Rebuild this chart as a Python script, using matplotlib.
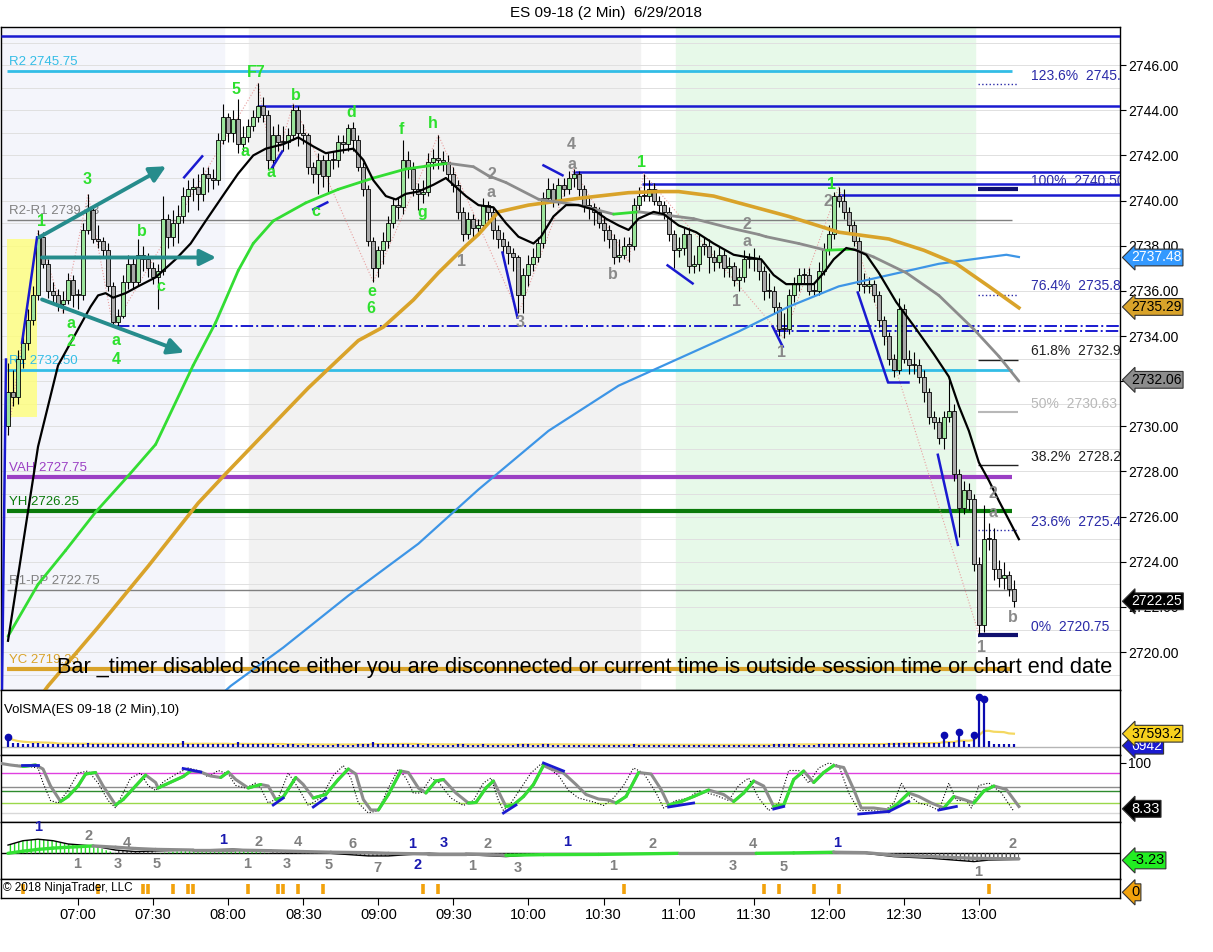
import matplotlib
matplotlib.use('Agg')
import matplotlib.pyplot as plt
import matplotlib.transforms as mtransforms
from matplotlib.patches import Rectangle
import numpy as np
import pandas as pd

plt.rcParams['font.family'] = ['Liberation Sans', 'DejaVu Sans']

# ---------------- data ----------------
first_time = 392          # 06:32, minutes after midnight
bar_step = 2              # 2-minute bars
first_open = 2730.0

closes = [
    2731.5, 2731.3, 2733.0, 2733.7, 2734.7, 2735.8, 2738.4, 2737.2, 2736.0, 2735.8,
    2735.4, 2735.6, 2736.5, 2735.8, 2735.8, 2738.7, 2739.6, 2738.3, 2738.2, 2737.8,
    2736.2, 2734.6, 2734.9, 2736.4, 2737.2, 2736.4, 2737.6, 2737.4, 2737.0, 2736.6,
    2736.9, 2739.2, 2738.4, 2739.0, 2739.3, 2740.2, 2740.5, 2740.6, 2740.3, 2741.2,
    2741.0, 2740.9, 2742.7, 2743.7, 2743.0, 2743.6, 2742.5, 2742.8, 2743.3, 2743.7,
    2744.2, 2743.8, 2741.8, 2742.9, 2742.6, 2742.6, 2742.9, 2744.0, 2743.0, 2742.9,
    2741.5, 2741.2, 2741.8, 2741.1, 2741.8, 2741.8, 2742.6, 2742.5, 2743.2, 2742.7,
    2741.5, 2740.5, 2738.2, 2737.0, 2737.8, 2738.2, 2739.0, 2739.8, 2739.7, 2741.8,
    2741.4, 2740.5, 2740.3, 2740.4, 2741.7, 2741.9, 2741.8, 2741.7, 2741.2, 2740.7,
    2739.5, 2738.5, 2739.2, 2738.8, 2738.9, 2739.8, 2739.5, 2738.7, 2738.3, 2738.0,
    2737.7, 2737.5, 2735.8, 2736.7, 2737.2, 2737.5, 2738.1, 2740.1, 2740.5, 2740.0,
    2740.7, 2740.5, 2741.0, 2741.2, 2740.5, 2739.8, 2739.7, 2739.5, 2739.0, 2738.7,
    2738.3, 2737.5, 2737.6, 2738.0, 2738.0, 2739.8, 2740.2, 2740.2, 2740.5, 2740.0,
    2739.8, 2739.5, 2738.5, 2737.8, 2737.9, 2738.5, 2737.1, 2737.2, 2738.0, 2738.0,
    2737.5, 2737.3, 2737.6, 2737.0, 2737.1, 2736.5, 2736.6, 2737.4, 2737.4, 2737.4,
    2736.9, 2736.0, 2736.0, 2735.3, 2734.3, 2734.3, 2735.8, 2736.3, 2736.7, 2736.7,
    2736.0, 2736.0, 2736.9, 2737.8, 2738.5, 2740.2, 2740.0, 2739.5, 2738.9, 2738.2,
    2736.3, 2736.2, 2736.3, 2735.8, 2734.7, 2734.0, 2733.0, 2732.5, 2735.2, 2733.0,
    2732.7, 2732.7, 2732.2, 2731.5, 2730.4, 2730.2, 2729.5, 2730.4, 2730.7, 2727.9,
    2726.4, 2727.2, 2726.8, 2723.9, 2721.2, 2725.0, 2725.0, 2723.7, 2723.3, 2723.4,
    2722.8, 2722.25]

highs = [
    2732.8, 2732.5, 2733.4, 2734.2, 2735.2, 2736.2, 2738.7, 2738.6, 2737.4, 2736.4,
    2736.1, 2736.0, 2736.8, 2736.7, 2736.1, 2739.0, 2740.3, 2739.8, 2738.9, 2738.4,
    2738.1, 2736.4, 2735.2, 2736.7, 2737.6, 2737.5, 2738.3, 2738.0, 2737.7, 2737.3,
    2737.2, 2740.2, 2739.4, 2739.6, 2739.8, 2740.6, 2740.9, 2741.0, 2741.2, 2741.5,
    2741.5, 2741.4, 2743.0, 2744.3, 2743.9, 2744.0, 2744.5, 2743.3, 2743.6, 2744.0,
    2745.2, 2744.6, 2744.0, 2743.3, 2743.4, 2743.3, 2743.2, 2744.3, 2744.2, 2743.4,
    2743.0, 2741.7, 2742.1, 2742.0, 2742.1, 2742.2, 2742.9, 2742.9, 2743.4, 2743.5,
    2742.9, 2741.7, 2740.7, 2738.4, 2738.0, 2738.6, 2739.3, 2740.1, 2740.1, 2742.7,
    2742.2, 2741.7, 2740.8, 2740.9, 2742.1, 2742.3, 2742.9, 2742.2, 2742.0, 2741.5,
    2740.9, 2739.7, 2739.5, 2739.4, 2739.2, 2740.1, 2740.0, 2739.7, 2738.9, 2738.6,
    2738.2, 2737.9, 2737.6, 2737.0, 2737.6, 2737.9, 2738.4, 2740.4, 2741.0, 2740.8,
    2741.0, 2741.0, 2741.3, 2741.4, 2741.3, 2740.7, 2740.2, 2739.9, 2739.7, 2739.3,
    2738.9, 2738.5, 2738.3, 2738.4, 2738.4, 2740.1, 2740.6, 2741.2, 2740.9, 2740.8,
    2740.2, 2740.0, 2739.7, 2738.7, 2738.4, 2738.8, 2738.8, 2737.6, 2738.5, 2738.4,
    2738.3, 2737.8, 2738.0, 2737.8, 2737.5, 2737.3, 2737.0, 2737.8, 2737.7, 2737.9,
    2737.6, 2737.1, 2736.8, 2736.2, 2735.5, 2735.0, 2736.1, 2736.6, 2737.0, 2737.0,
    2737.0, 2736.4, 2737.3, 2738.1, 2738.9, 2740.4, 2740.6, 2740.5, 2739.7, 2739.1,
    2738.4, 2736.8, 2736.6, 2736.5, 2736.0, 2734.9, 2734.2, 2733.2, 2735.7, 2735.4,
    2733.4, 2733.3, 2733.0, 2732.5, 2731.7, 2730.7, 2730.4, 2730.7, 2732.2, 2731.0,
    2728.1, 2727.6, 2727.5, 2727.0, 2724.2, 2726.5, 2725.7, 2725.5, 2724.1, 2724.0,
    2723.6, 2723.2]

lows = [
    2729.6, 2730.9, 2731.0, 2732.6, 2733.4, 2734.5, 2735.6, 2737.0, 2735.7, 2735.5,
    2735.1, 2735.0, 2735.4, 2735.3, 2735.2, 2735.6, 2738.5, 2738.1, 2737.9, 2737.5,
    2736.0, 2734.4, 2734.4, 2734.8, 2736.1, 2736.1, 2736.2, 2736.9, 2736.6, 2736.3,
    2735.2, 2736.7, 2737.9, 2738.0, 2738.1, 2739.0, 2739.5, 2740.0, 2739.6, 2740.0,
    2740.4, 2740.5, 2740.7, 2742.5, 2742.6, 2742.6, 2742.1, 2742.2, 2742.6, 2743.1,
    2743.5, 2743.5, 2741.4, 2741.3, 2742.2, 2742.2, 2742.3, 2742.7, 2742.4, 2742.5,
    2741.2, 2740.8, 2740.3, 2740.6, 2740.4, 2741.4, 2741.5, 2742.1, 2742.2, 2742.2,
    2741.3, 2740.2, 2738.0, 2736.4, 2736.6, 2737.2, 2737.9, 2738.8, 2739.2, 2739.4,
    2741.0, 2740.2, 2739.6, 2739.9, 2740.2, 2741.4, 2741.4, 2741.3, 2740.9, 2740.4,
    2739.2, 2738.2, 2738.3, 2738.4, 2738.5, 2738.7, 2739.1, 2738.3, 2737.9, 2737.5,
    2737.2, 2736.9, 2735.0, 2735.0, 2736.2, 2736.9, 2737.3, 2737.9, 2739.9, 2739.7,
    2739.8, 2740.2, 2740.3, 2740.6, 2740.2, 2739.5, 2739.2, 2738.9, 2738.8, 2738.2,
    2737.9, 2737.2, 2737.3, 2737.4, 2737.3, 2737.8, 2739.6, 2740.0, 2740.0, 2739.8,
    2739.5, 2739.2, 2738.2, 2737.0, 2737.5, 2737.6, 2736.8, 2736.8, 2736.9, 2737.6,
    2736.8, 2736.9, 2737.0, 2736.6, 2736.6, 2736.2, 2736.0, 2736.4, 2737.0, 2736.9,
    2736.5, 2735.6, 2735.7, 2735.0, 2734.0, 2733.9, 2734.1, 2735.5, 2736.0, 2736.3,
    2735.8, 2735.8, 2735.8, 2736.7, 2737.6, 2738.3, 2739.7, 2739.2, 2738.6, 2738.0,
    2736.0, 2735.9, 2735.9, 2735.5, 2734.4, 2733.6, 2732.7, 2732.2, 2732.3, 2732.8,
    2732.3, 2732.3, 2731.9, 2731.1, 2730.1, 2729.9, 2729.2, 2729.0, 2730.2, 2727.6,
    2725.1, 2726.1, 2726.3, 2723.6, 2720.8, 2720.9, 2724.5, 2723.2, 2722.9, 2722.8,
    2722.5, 2722.0]

volumes = [
    29000, 11000, 10000, 9500, 9000, 10500, 12000, 9000, 8500, 8000,
    8500, 9000, 8000, 8800, 8200, 9500, 10000, 8200, 7800, 8000,
    9000, 9500, 8000, 8500, 8000, 7500, 8000, 7200, 7000, 7600,
    8000, 9000, 8000, 7800, 8200, 17000, 8500, 8000, 7600, 7800,
    7000, 7200, 9000, 8500, 7600, 8000, 15000, 7600, 7400, 7800,
    8500, 7200, 8000, 7000, 6800, 6500, 6900, 7200, 6800, 6600,
    7000, 6500, 6200, 6400, 6800, 6600, 6900, 6400, 6500, 6700,
    7200, 7400, 9000, 15000, 8000, 7600, 7200, 7000, 7800, 8800,
    7400, 6800, 7000, 6500, 7200, 6600, 6800, 6500, 6300, 6800,
    7200, 7600, 6800, 6500, 6400, 6900, 6500, 6300, 6400, 6600,
    6500, 6800, 8800, 8200, 7000, 6400, 6600, 8000, 7000, 6400,
    6200, 6000, 6800, 6400, 6200, 6000, 5800, 6000, 6200, 6000,
    6200, 6400, 6000, 6100, 5900, 7200, 6600, 6000, 5800, 6200,
    5800, 5600, 6000, 6200, 5900, 5800, 6600, 6000, 5700, 5800,
    6000, 5800, 5600, 6000, 5800, 6200, 6000, 5800, 5600, 5800,
    6000, 6600, 6200, 7000, 8000, 8500, 8200, 7000, 6600, 6400,
    6800, 6500, 7000, 7800, 8000, 9500, 8000, 7600, 7200, 7400,
    9000, 8000, 7800, 8000, 9000, 9500, 10500, 11000, 12000, 11500,
    10000, 9800, 10500, 11000, 12000, 11500, 12500, 35000, 13000, 14000,
    43000, 16000, 8290, 33000, 142000, 137000, 17000, 9000, 8000, 7500,
    7200, 6942]

# moving averages (time in minutes, price)
fast_t = [392, 404, 412, 420, 425, 428, 431, 434, 439, 444, 451, 459, 465, 471, 479,
          484, 490, 495, 502, 508, 514, 519, 524, 530, 534, 538, 543, 547, 551, 556,
          562, 567, 571, 575, 580, 586, 591, 596, 602, 605, 610, 615, 620, 626, 631,
          636, 640, 644, 650, 654, 660, 667, 674, 682, 687, 693, 698, 703, 714, 718,
          722, 727, 731, 735, 740, 747, 755, 762, 768, 772, 776, 780, 784, 788, 796]
fast_p = [2720.5, 2729.1, 2732.7, 2734.3, 2735.3, 2735.8, 2735.9, 2735.7, 2735.9, 2736.2,
          2736.6, 2737.4, 2738.1, 2739.1, 2740.4, 2741.2, 2742.0, 2742.3, 2742.5, 2742.8,
          2742.4, 2742.1, 2742.2, 2742.3, 2741.8, 2740.9, 2740.2, 2740.05, 2740.3, 2740.4,
          2740.7, 2741.0, 2740.6, 2740.2, 2739.8, 2739.7, 2739.0, 2738.4, 2738.1, 2738.4,
          2739.3, 2739.8, 2739.8, 2739.6, 2739.2, 2738.9, 2738.7, 2739.2, 2739.5, 2739.4,
          2738.9, 2738.6, 2738.1, 2737.6, 2737.5, 2737.4, 2736.7, 2736.3, 2736.3, 2736.8,
          2737.4, 2737.9, 2737.8, 2737.6, 2736.8, 2735.5, 2734.3, 2733.2, 2732.2, 2730.9,
          2729.8, 2728.4, 2727.6, 2726.7, 2725.0]

mid_t = [392, 404, 415, 427, 440, 451, 466, 475, 484, 490, 498, 511, 524, 538, 551,
         564, 568, 578, 584, 591, 604, 620, 634, 644, 652, 666, 680, 692, 695, 708,
         719, 730, 738, 751, 764, 778, 788, 796]
mid_p = [2720.7, 2723.0, 2724.5, 2726.2, 2727.8, 2729.2, 2732.7, 2734.6, 2736.9, 2738.1,
         2739.1, 2739.9, 2740.5, 2741.0, 2741.4, 2741.6, 2741.65, 2741.5, 2741.1, 2740.8,
         2740.06, 2739.8, 2739.4, 2739.5, 2739.4, 2739.2, 2738.8, 2738.5, 2738.4, 2738.1,
         2737.8, 2737.85, 2737.5, 2736.8, 2735.8, 2734.3, 2733.1, 2732.0]

gold_t = [404, 408, 428, 448, 468, 479, 492, 512, 532, 542, 554, 564, 575, 580, 588,
          600, 620, 640, 652, 660, 674, 684, 704, 724, 744, 758, 771, 784, 796]
gold_p = [2717.9, 2718.5, 2721.1, 2723.8, 2726.6, 2727.9, 2729.4, 2731.7, 2733.8, 2734.4,
          2735.6, 2736.8, 2738.0, 2738.5, 2739.5, 2739.8, 2740.1, 2740.35, 2740.4, 2740.4,
          2740.2, 2739.9, 2739.3, 2738.6, 2738.3, 2737.8, 2737.2, 2736.2, 2735.25]

slow_t = [476, 481, 502, 528, 556, 580, 608, 636, 668, 684, 704, 724, 744, 764, 784, 791, 796]
slow_p = [2718.0, 2718.5, 2720.2, 2722.5, 2724.8, 2727.2, 2729.8, 2731.8, 2733.4, 2734.2,
          2735.3, 2736.2, 2736.7, 2737.2, 2737.5, 2737.6, 2737.5]

# price levels: (label, price, colour, width)
pivot_names = ['R2 2745.75', 'R2-R1 2739.13', 'R1 2732.50', 'VAH 2727.75',
               'YH 2726.25', 'R1-PP 2722.75', 'YC 2719.25']
pivot_prices = [2745.75, 2739.13, 2732.50, 2727.75, 2726.25, 2722.75, 2719.25]
pivot_colors = ['#33bde6', '#808080', '#33bde6', '#9b3fc4', '#0a7a0a', '#808080', '#d9a32a']
pivot_widths = [2.0, 1.0, 2.0, 3.0, 3.0, 1.0, 3.0]

ray_start = [389.2, 491.6, 617.6, 645.2, 723.6]
ray_price = [2747.3, 2744.2, 2741.25, 2740.72, 2740.23]
dashdot_start = [435.6, 698.8]
dashdot_price = [2734.46, 2734.24]

fib_pct = ['123.6%', '100%', '76.4%', '61.8%', '50%', '38.2%', '23.6%', '0%']
fib_price = [2745.16, 2740.50, 2735.84, 2732.96, 2730.63, 2728.29, 2725.41, 2720.75]
fib_text = ['2745.16', '2740.50', '2735.84', '2732.96', '2730.63', '2728.29', '2725.41', '2720.75']
fib_color = ['#2a2aa8', '#2a2aa8', '#2a2aa8', '#222222', '#b8b8b8', '#222222', '#2a2aa8', '#2a2aa8']
fib_style = [':', '-', ':', '-', '-', '-', ':', '-']
fib_width = [1.0, 3.0, 1.0, 1.0, 1.5, 1.0, 1.0, 3.0]

# swing zigzag (time, price)
zig_t = [392, 404, 414, 424, 434, 492, 498, 506, 538, 564, 596, 618, 640, 646, 702, 724, 780]
zig_p = [2729.6, 2738.7, 2735.0, 2740.3, 2734.4, 2745.2, 2741.3, 2744.3, 2736.4, 2742.9,
         2735.0, 2741.4, 2737.3, 2741.2, 2733.9, 2740.6, 2720.8]

# short blue trend marks (t0, p0, t1, p1)
marks = [(389.6, 2718.32, 391.2, 2732.96), (397.6, 2733.71, 403.6, 2738.37),
         (462.4, 2741.03, 469.6, 2741.96), (497.6, 2741.47, 501.6, 2742.18),
         (514.0, 2739.61, 519.6, 2739.92), (606.0, 2741.56, 613.6, 2741.12),
         (589.6, 2737.70, 595.6, 2734.82), (655.6, 2737.13, 665.6, 2736.33),
         (697.6, 2734.42, 701.6, 2733.53), (731.6, 2735.93, 743.6, 2731.98),
         (743.6, 2731.98, 751.6, 2731.98), (763.6, 2728.74, 771.6, 2724.75)]

# teal arrows (t0, p0, t1, p1)
arrows = [(404.4, 2738.37, 455.2, 2741.52), (405.6, 2737.48, 475.2, 2737.48),
          (405.6, 2735.62, 462.4, 2733.27)]

# wave labels (text, time, price)
green_lbl = [('F7', 491.2, 2745.69), ('5', 483.2, 2744.94), ('b', 507.2, 2744.67),
             ('d', 529.2, 2743.91), ('f', 549.2, 2743.16), ('h', 561.6, 2743.43),
             ('3', 423.6, 2740.94), ('1', 405.2, 2739.08), ('b', 445.6, 2738.64),
             ('a', 486.8, 2742.18), ('a', 497.2, 2741.25), ('c', 515.2, 2739.52),
             ('g', 557.6, 2739.48), ('e', 537.2, 2735.97), ('6', 537.2, 2735.22),
             ('a', 417.2, 2734.55), ('2', 417.2, 2733.76), ('a', 435.2, 2733.80),
             ('4', 435.2, 2732.96), ('c', 453.2, 2736.20), ('1', 645.2, 2741.70),
             ('1', 721.2, 2740.72)]
gray_lbl = [('2', 585.2, 2741.16), ('a', 585.2, 2740.37), ('1', 573.2, 2737.30),
            ('3', 596.8, 2734.60), ('4', 617.2, 2742.50), ('a', 617.2, 2741.61),
            ('b', 633.6, 2736.73), ('2', 687.2, 2738.95), ('a', 687.2, 2738.19),
            ('1', 683.2, 2735.53), ('1', 701.2, 2733.27), ('2', 719.6, 2739.97),
            ('2', 785.6, 2727.01), ('a', 785.6, 2726.17), ('1', 781.2, 2720.22),
            ('b', 793.6, 2721.51)]

# stochastics (time, value)
stoch_t = [388, 393, 398, 403, 406, 409, 413, 416, 420, 423, 427, 430, 435, 438, 443,
           447, 451, 452, 455, 462, 465, 469, 473, 477, 480, 483, 488, 493, 496, 499,
           502, 507, 510, 514, 519, 524, 528, 531, 534, 537, 540, 544, 549, 552, 556,
           559, 563, 566, 571, 576, 579, 583, 586, 589, 591, 594, 598, 602, 606, 609,
           614, 619, 623, 628, 632, 635, 639, 644, 649, 653, 656, 661, 666, 672, 678,
           682, 686, 690, 694, 698, 702, 706, 710, 714, 718, 722, 726, 730, 733, 738,
           744, 747, 752, 756, 761, 766, 770, 774, 778, 782, 786, 791, 796]
stoch_d = [100, 96, 93, 96, 88, 54, 23, 33, 54, 78, 81, 54, 16, 27, 54,
           76, 61, 50, 57, 73, 84, 82, 74, 71, 82, 67, 50, 57, 54, 27,
           32, 71, 57, 30, 37, 67, 88, 78, 27, 6, 6, 37, 84, 81, 50,
           40, 64, 67, 40, 20, 21, 50, 64, 33, 13, 16, 33, 57, 95, 88,
           80, 57, 37, 28, 26, 20, 33, 81, 78, 47, 16, 23, 33, 46, 37,
           23, 40, 64, 54, 13, 16, 67, 84, 61, 81, 95, 91, 47, 10, 10,
           6, 16, 40, 33, 20, 10, 33, 27, 20, 44, 54, 47, 13]
fastk_t = [388, 393, 398, 404, 406, 409, 412, 416, 420, 424, 428, 432, 435, 437, 441,
           445, 448, 451, 454, 460, 464, 468, 472, 476, 480, 483, 487, 491, 493, 496,
           500, 504, 508, 512, 517, 522, 526, 529, 532, 536, 540, 544, 548, 551, 554,
           557, 561, 564, 569, 574, 578, 582, 585, 588, 590, 593, 597, 601, 605, 608,
           612, 616, 620, 626, 630, 634, 638, 642, 646, 651, 654, 659, 664, 668, 675,
           680, 684, 688, 692, 696, 700, 704, 708, 712, 716, 720, 724, 728, 732, 736,
           742, 746, 749, 752, 756, 760, 764, 768, 771, 775, 777, 780, 784, 789, 794]
fastk = [100, 96, 95, 90, 60, 25, 20, 45, 80, 84, 60, 25, 10, 30, 70,
         80, 55, 45, 62, 80, 90, 85, 72, 85, 78, 55, 50, 60, 50, 20,
         30, 80, 50, 15, 30, 75, 95, 70, 20, 0, 5, 50, 88, 70, 40,
         40, 70, 62, 30, 15, 25, 60, 70, 25, 5, 20, 50, 80, 98, 90,
         75, 45, 30, 22, 15, 30, 55, 90, 80, 40, 10, 25, 30, 45, 35,
         25, 55, 70, 30, 5, 20, 85, 85, 60, 90, 100, 95, 40, 5, 5,
         3, 20, 60, 35, 20, 15, 5, 60, 25, 25, 10, 55, 60, 40, 3]
stoch_levels = [80, 53, 45, 20, 0]
stoch_level_colors = ['#e040e0', '#8c8c8c', '#2e8b2e', '#9ad84a', '#d8d8d8']
stoch_marks = [(397.6, 96, 404, 96), (462, 89, 469, 82), (498, 16, 502, 30),
               (514, 12, 519, 30), (590, 0, 595, 16), (606, 100, 614, 84),
               (656, 12, 666, 20), (698, 8, 702, 13), (732, -2, 744, 3),
               (744, 3, 752, 23), (764, 6, 771, 13)]

# MACD (time, value)
macd_t = [392, 398, 404, 410, 416, 426, 435, 443, 451, 466, 482, 497, 510, 521, 536, 544,
          560, 575, 591, 606, 628, 660, 691, 706, 722, 735, 746, 761, 778, 784, 796]
macd = [3.8, 5.8, 6.5, 5.8, 4.3, 3.4, 1.5, 0.8, 1.1, 1.5, 1.9, 1.0, 0.6, 0.0, -1.2, -1.2,
        0.0, -0.6, -1.5, -0.3, -0.4, 0.0, 0.3, 0.0, 0.8, 0.0, -1.5, -2.3, -3.8, -3.1, -2.8]
macd_sig = [0.0, 1.0, 1.8, 2.4, 2.8, 3.4, 2.8, 2.2, 1.8, 1.5, 1.5, 1.2, 0.8, 0.5, 0.3, 0.0,
            -0.3, -0.3, -0.9, -0.6, -0.5, 0.0, 0.0, 0.2, 0.5, 0.3, -0.9, -1.5, -2.3, -2.4, -2.5]
macd_lbl = [('1', 404.0, 12.0, '#1a1ab0'), ('2', 424.0, 8.0, '#808080'), ('1', 419.6, -5.0, '#808080'),
            ('3', 436.0, -5.0, '#808080'), ('4', 439.6, 4.8, '#808080'), ('5', 451.6, -5.0, '#808080'),
            ('1', 478.0, 6.0, '#1a1ab0'), ('2', 492.0, 5.0, '#808080'), ('1', 487.6, -5.0, '#808080'),
            ('4', 508.0, 5.0, '#808080'), ('3', 503.6, -5.0, '#808080'), ('5', 520.0, -5.4, '#808080'),
            ('6', 529.6, 4.2, '#808080'), ('7', 539.6, -6.8, '#808080'), ('1', 553.6, 4.2, '#1a1ab0'),
            ('2', 555.6, -5.4, '#1a1ab0'), ('3', 566.0, 4.8, '#1a1ab0'), ('2', 583.6, 4.2, '#808080'),
            ('1', 577.6, -5.8, '#808080'), ('3', 595.6, -6.8, '#808080'), ('1', 615.6, 5.0, '#1a1ab0'),
            ('1', 634.0, -5.8, '#808080'), ('2', 649.6, 4.2, '#808080'), ('3', 681.6, -5.8, '#808080'),
            ('4', 689.6, 4.2, '#808080'), ('5', 702.0, -6.2, '#808080'), ('1', 723.2, 4.8, '#1a1ab0'),
            ('1', 779.6, -8.4, '#808080'), ('2', 793.6, 4.2, '#808080')]

# alert markers in the bottom strip (bar times)
alert_t = [398, 428, 446, 448, 458, 464, 466, 488, 500, 502, 508, 518, 558, 564,
           638, 694, 700, 714, 724, 784]

# ---------------- layout ----------------
W, H = 1213, 952
fig = plt.figure(figsize=(W / 100, H / 100), dpi=100)


def rect(x0, y0, x1, y1):
    return [x0 / W, 1 - y1 / H, (x1 - x0) / W, (y1 - y0) / H]


ax = fig.add_axes(rect(1, 27, 1120, 690))
axv = fig.add_axes(rect(1, 690, 1120, 755))
axs = fig.add_axes(rect(1, 755, 1120, 822))
axm = fig.add_axes(rect(1, 822, 1120, 879))
axk = fig.add_axes(rect(1, 879, 1120, 898))

x_lo, x_hi = 389.2, 836.4
for a in (ax, axv, axs, axm, axk):
    a.set_xlim(x_lo, x_hi)
    for s in a.spines.values():
        s.set_linewidth(1.0)
    a.set_xticks([])

fig.text(606 / W, 1 - 13 / H, 'ES 09-18 (2 Min)  6/29/2018', ha='center', va='center', fontsize=11)

# ---------------- price panel ----------------
ax.set_ylim(2718.32, 2747.69)
ax.axvspan(x_lo, 478.4, color='#f4f5fb', zorder=0)
ax.axvspan(488.4, 644.4, color='#f2f2f2', zorder=0)
ax.axvspan(658.8, 778.4, color='#e7f9e9', zorder=0)
for p in range(2719, 2748):
    ax.axhline(p, color='#e0e0e0', lw=0.7, zorder=0.5)

ax.yaxis.tick_right()
ax.set_yticks(np.arange(2720, 2747, 2))
ax.set_yticklabels([f'{v:.2f}' for v in np.arange(2720, 2747, 2)])
ax.tick_params(axis='y', direction='out', length=4, labelsize=10, pad=2)

ax.add_patch(Rectangle((391.6, 2730.4), 12.0, 7.9, fc='#ffff7a', ec='none', alpha=0.8, zorder=1.5))

lvl_end = 793.2
for name, p, c, w in zip(pivot_names, pivot_prices, pivot_colors, pivot_widths):
    ax.hlines(p, 391.6, lvl_end, color=c, lw=w, zorder=3)
    ax.annotate(name, (392.4, p), xytext=(0, 2), textcoords='offset points',
                color=c, fontsize=9.5, va='bottom', ha='left', zorder=2)
for t0, p in zip(ray_start, ray_price):
    ax.hlines(p, t0, x_hi, color='#1a1ad0', lw=1.8, zorder=3)
for t0, p in zip(dashdot_start, dashdot_price):
    ax.hlines(p, t0, x_hi, color='#1a1ad0', lw=1.4, linestyles='-.', zorder=3)

for pct, p, txt, c, ls, w in zip(fib_pct, fib_price, fib_text, fib_color, fib_style, fib_width):
    lc = '#10106e' if w > 2 else c
    ax.hlines(p, 779.6, 795.6, color=lc, lw=w, linestyles=ls, zorder=3)
    ax.annotate(f'{pct}  {txt}', (801.0, p), xytext=(0, 1), textcoords='offset points',
                color=c, fontsize=10, va='bottom', ha='left', zorder=3, annotation_clip=False,
                clip_on=True)

ax.plot(zig_t, zig_p, color='#e8a0a0', lw=0.8, ls=':', zorder=3.5)

# candles
o = np.r_[first_open, closes[:-1]]
c = np.array(closes)
t = first_time + bar_step * np.arange(len(c))
up = c > o
ax.vlines(t, lows, highs, color='black', lw=0.8, zorder=4)
body = np.where(np.abs(c - o) < 0.06, 0.06, c - o)
ax.bar(t, body, bottom=o, width=1.6, color=np.where(up, '#9be49b', '#a8a8a8'),
       edgecolor='black', linewidth=0.6, zorder=5)

# moving averages
ax.plot(slow_t, slow_p, color='#3d95e6', lw=1.6, zorder=6)
ax.plot(gold_t, gold_p, color='#d9a32a', lw=2.6, zorder=6)
for i in range(len(mid_t) - 1):
    col = '#33dd33' if mid_p[i + 1] >= mid_p[i] else '#8c8c8c'
    ax.plot(mid_t[i:i + 2], mid_p[i:i + 2], color=col, lw=2.0, zorder=6, solid_capstyle='round')
ax.plot(fast_t, fast_p, color='black', lw=1.6, zorder=6.5)

for t0, p0, t1, p1 in marks:
    ax.plot([t0, t1], [p0, p1], color='#1a1ad0', lw=1.8, zorder=7)
for t0, p0, t1, p1 in arrows:
    ax.annotate('', xy=(t1, p1), xytext=(t0, p0), zorder=7,
                arrowprops=dict(arrowstyle='-|>', color='#268c8c', lw=2.8, mutation_scale=24,
                                shrinkA=0, shrinkB=0))

for s, tt, pp in green_lbl:
    ax.text(tt, pp, s, color='#2ee02e', fontsize=11.5, fontweight='bold', ha='center', va='center', zorder=8)
for s, tt, pp in gray_lbl:
    ax.text(tt, pp, s, color='#8a8a8a', fontsize=11.5, fontweight='bold', ha='center', va='center', zorder=8)

ax.text(411.6, 2719.33, 'Bar _timer disabled since either you are disconnected or current time is '
        'outside session time or chart end date', fontsize=15.7, ha='left', va='center', zorder=9)

tag_x = 1.010
tr = mtransforms.blended_transform_factory(ax.transAxes, ax.transData)
tags = [(2737.48, '#3399ff', 'white'), (2735.29, '#d9a32a', 'black'),
        (2732.06, '#8c8c8c', 'black'), (2722.25, 'black', 'white')]
for val, fc, tc in tags:
    ax.text(tag_x, val, f'{val:.2f}', transform=tr, color=tc, fontsize=10, va='center', ha='left',
            zorder=10, clip_on=False,
            bbox=dict(boxstyle='larrow,pad=0.1', fc=fc, ec='#333333', lw=0.8))

# ---------------- volume panel ----------------
vol = np.array(volumes, dtype=float)
axv.set_ylim(-23000, 162000)
axv.set_yticks([])
axv.axhline(0, color='#b5b5b5', lw=1.0, zorder=1)
sma = pd.Series(vol).rolling(10, min_periods=1).mean()
axv.plot(t, sma, color='#f2cf3a', lw=1.6, alpha=0.8, zorder=1.5)
axv.vlines(t, 0, vol, color='#0b0bb0', lw=1.6, zorder=2)
big = vol > 25000
axv.plot(t[big], vol[big], 'o', color='#0b0bb0', ms=4.5, zorder=3)
axv.text(0.003, 0.7, 'VolSMA(ES 09-18 (2 Min),10)', transform=axv.transAxes, fontsize=9.5,
         ha='left', va='center')
trv = mtransforms.blended_transform_factory(axv.transAxes, axv.transData)
axv.text(tag_x, 3500, f'{volumes[-1]}', transform=trv, color='white', fontsize=10, va='center',
         ha='left', clip_on=False, bbox=dict(boxstyle='larrow,pad=0.1', fc='#1a1ad0', ec='#333333', lw=0.8))
axv.text(tag_x, float(sma.iloc[-1]), f'{sma.iloc[-1]:.1f}', transform=trv, color='black', fontsize=10,
         va='center', ha='left', clip_on=False,
         bbox=dict(boxstyle='larrow,pad=0.1', fc='#f7d11e', ec='#333333', lw=0.8))

# ---------------- stochastics panel ----------------
axs.set_ylim(-18, 116)
for lv, lc in zip(stoch_levels, stoch_level_colors):
    axs.axhline(lv, color=lc, lw=1.0, zorder=1)
axs.plot(fastk_t, fastk, color='black', lw=0.8, ls=':', zorder=2)
axs.plot(stoch_t, stoch_d, color='#8c8c8c', lw=2.2, zorder=3)
for i in range(len(stoch_t) - 1):
    if stoch_d[i + 1] > stoch_d[i]:
        axs.plot(stoch_t[i:i + 2], stoch_d[i:i + 2], color='#33e033', lw=2.2, zorder=4,
                 solid_capstyle='round')
for t0, v0, t1, v1 in stoch_marks:
    axs.plot([t0, t1], [v0, v1], color='#1a1ad0', lw=2.0, zorder=5)
axs.yaxis.tick_right()
axs.set_yticks([100])
axs.tick_params(axis='y', direction='out', length=4, labelsize=10, pad=2)
trs = mtransforms.blended_transform_factory(axs.transAxes, axs.transData)
axs.text(tag_x, 8.33, '8.33', transform=trs, color='white', fontsize=10.5, va='center', ha='left',
         clip_on=False, bbox=dict(boxstyle='larrow,pad=0.1', fc='black', ec='#333333', lw=0.8))

# ---------------- MACD panel ----------------
axm.set_ylim(-11.8, 14.4)
axm.set_yticks([])
axm.axhline(0, color='black', lw=1.0, zorder=1)
mt = np.array(macd_t, dtype=float)
mv = np.array(macd)
ms = np.array(macd_sig)
plt.rcParams['hatch.linewidth'] = 1.0
axm.fill_between(mt, 0, mv, where=mv >= ms, interpolate=True, facecolor='none',
                 edgecolor='#22dd22', hatch='||||', lw=0, zorder=1.5)
axm.fill_between(mt, 0, mv, where=mv < ms, interpolate=True, facecolor='none',
                 edgecolor='#555555', hatch='||||', lw=0, zorder=1.5)
axm.plot(mt, mv, color='black', lw=1.0, zorder=2)
for i in range(len(mt) - 1):
    col = '#33e033' if ms[i + 1] > ms[i] else '#8c8c8c'
    axm.plot(mt[i:i + 2], ms[i:i + 2], color=col, lw=2.4, zorder=3, solid_capstyle='round')
for s, tt, vv, col in macd_lbl:
    axm.text(tt, vv, s, color=col, fontsize=10.5, fontweight='bold', ha='center', va='center', zorder=4)
trm = mtransforms.blended_transform_factory(axm.transAxes, axm.transData)
axm.text(tag_x, -3.23, '-3.23', transform=trm, color='black', fontsize=10.5, va='center', ha='left',
         clip_on=False, bbox=dict(boxstyle='larrow,pad=0.1', fc='#22ee22', ec='#333333', lw=0.8))

# ---------------- alert strip and time axis ----------------
axk.set_ylim(0, 1)
axk.set_yticks([])
axk.vlines(alert_t, 0.22, 0.76, color='#f2a20c', lw=2.6)
axk.text(0.002, 0.5, '\u00a9 2018 NinjaTrader, LLC', transform=axk.transAxes, fontsize=8.5,
         ha='left', va='center')
ticks = list(range(420, 781, 30))
axk.set_xticks(ticks)
axk.set_xticklabels([f'{m // 60:02d}:{m % 60:02d}' for m in ticks])
axk.tick_params(axis='x', direction='out', length=5, labelsize=10.5, pad=2)
trk = mtransforms.blended_transform_factory(axk.transAxes, axk.transData)
axk.text(tag_x, 0.3, '0', transform=trk, color='black', fontsize=10.5, va='center', ha='left',
         clip_on=False, bbox=dict(boxstyle='larrow,pad=0.1', fc='#f2a20c', ec='#333333', lw=0.8))

fig.savefig('out.png', dpi=100)
